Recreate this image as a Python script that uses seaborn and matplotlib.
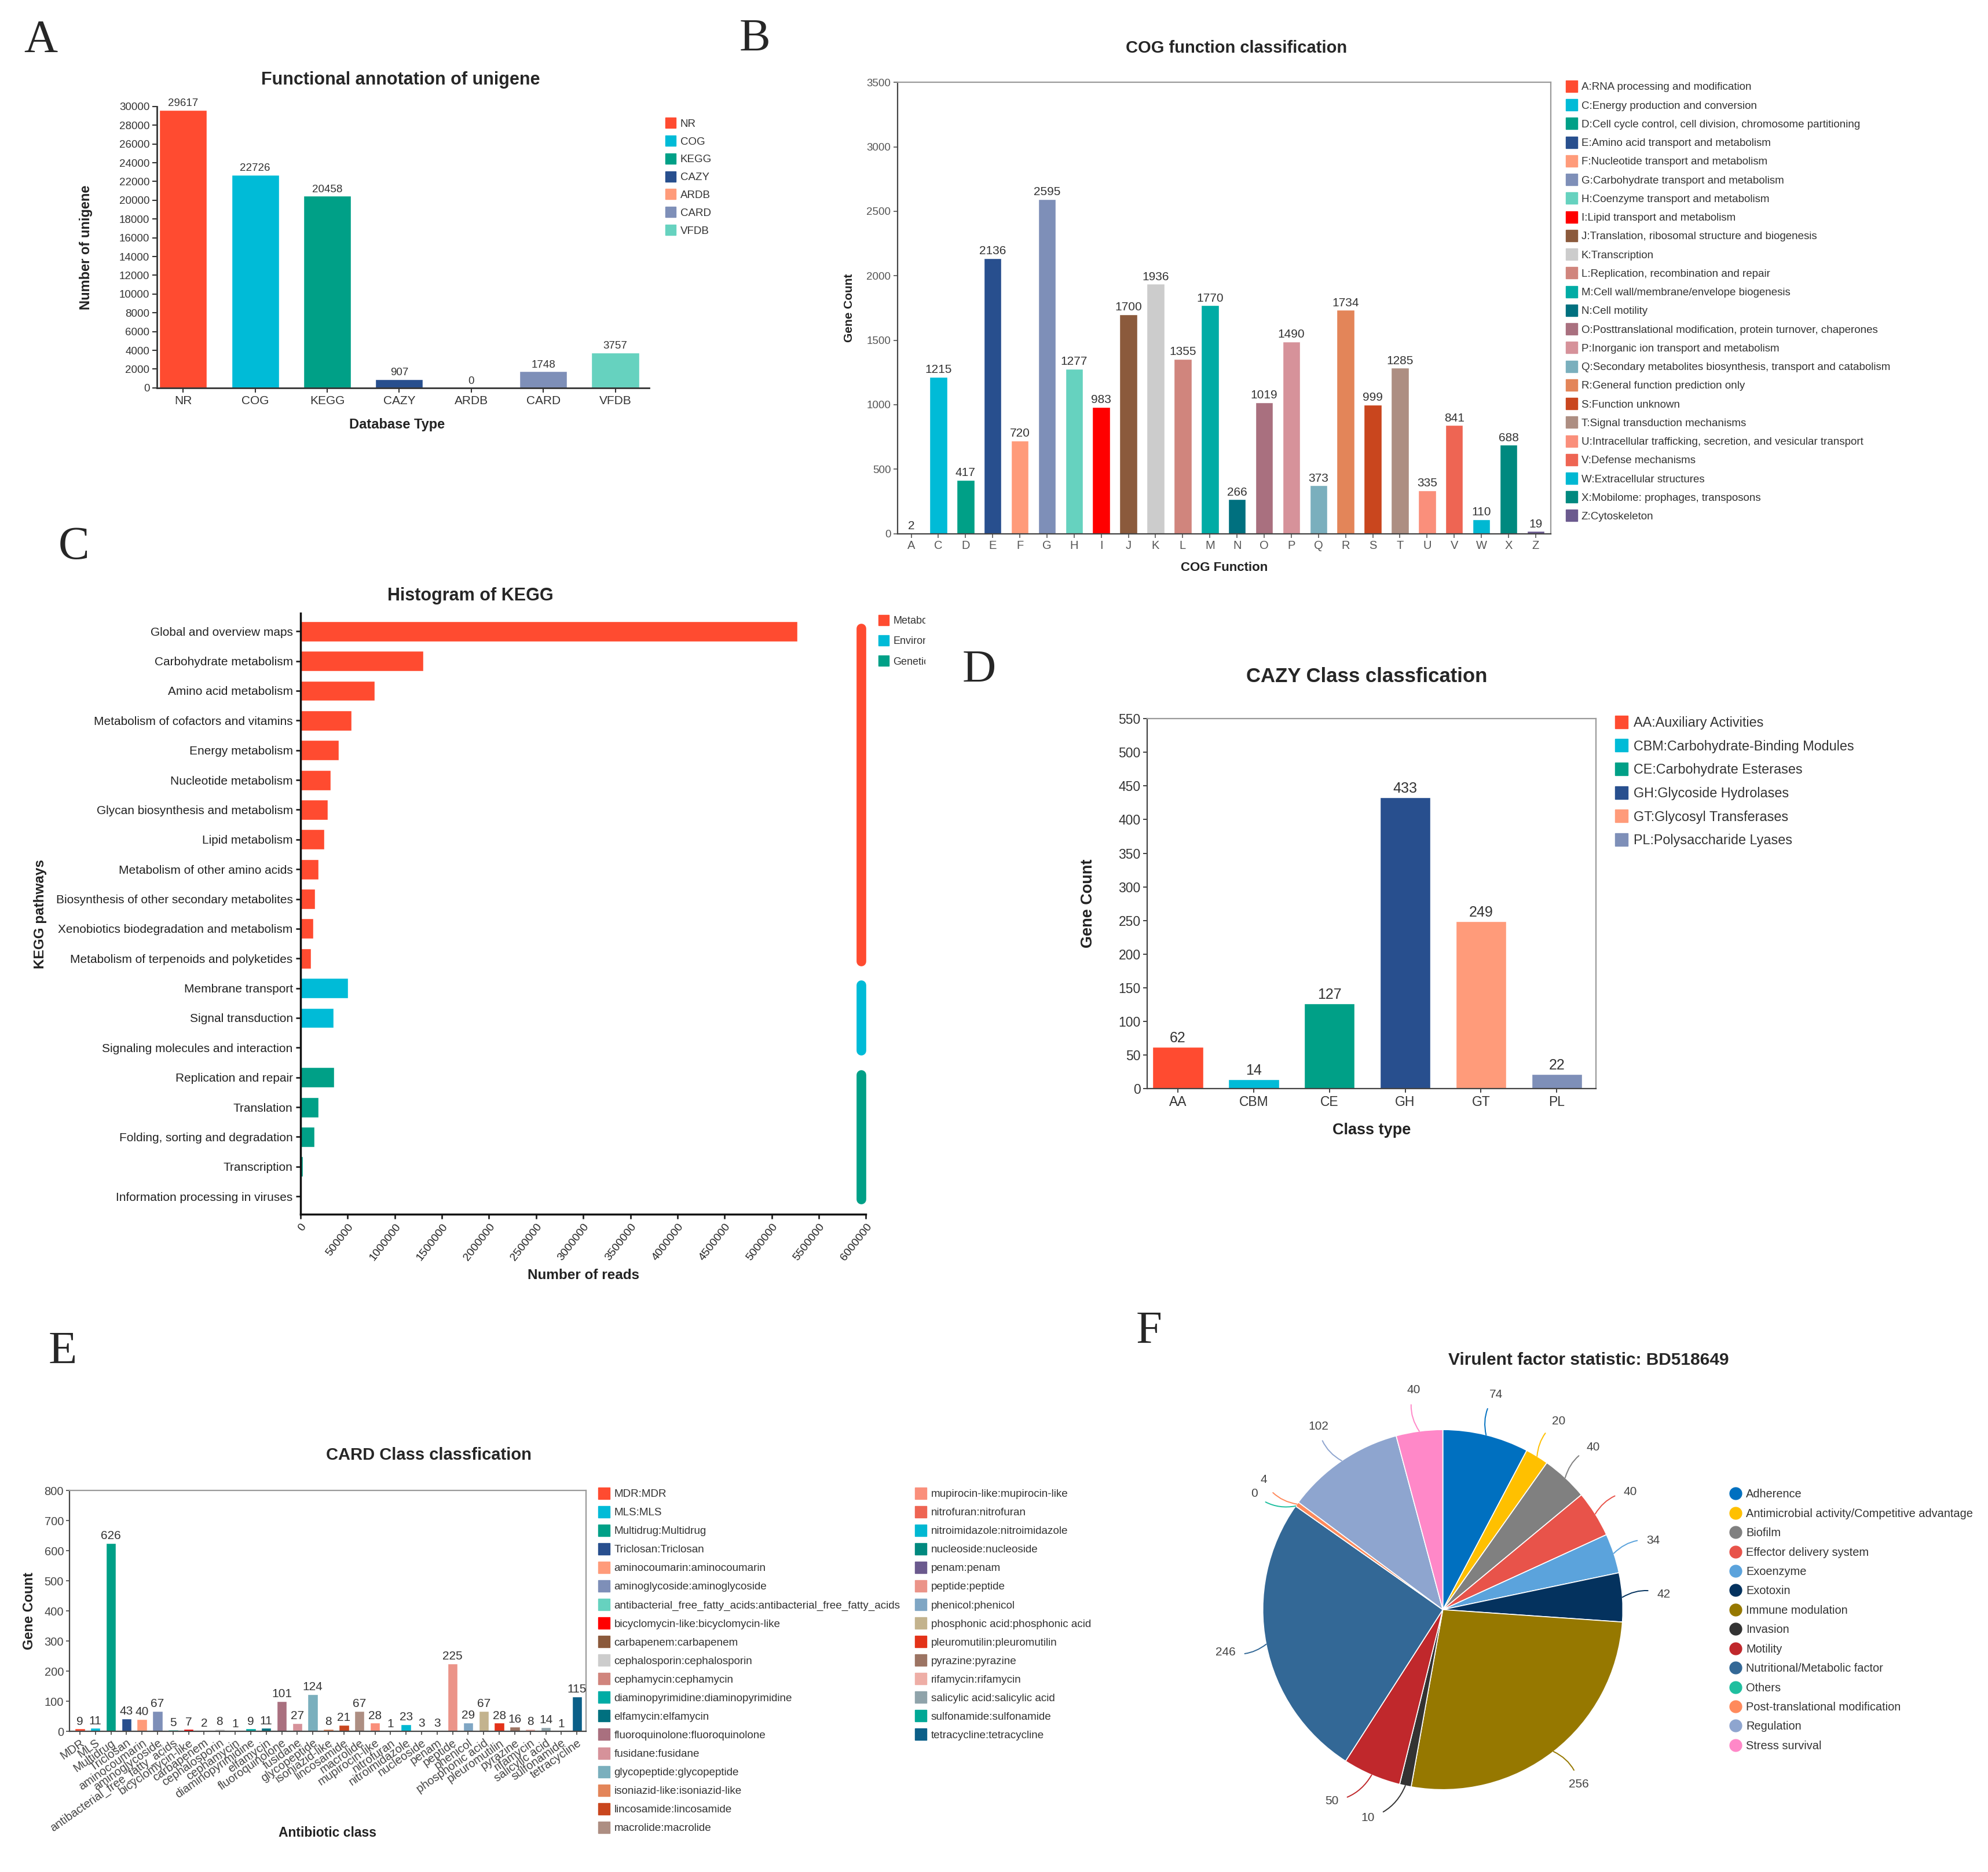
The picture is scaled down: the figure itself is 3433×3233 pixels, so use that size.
import numpy as np
import pandas as pd
import matplotlib
matplotlib.use('Agg')
import matplotlib.pyplot as plt
import seaborn as sns
from matplotlib.lines import Line2D
from matplotlib.transforms import Bbox, TransformedBbox

# ---------------- data ----------------
palette = ['#FF4B30', '#00BBD7', '#00A087', '#284F8E', '#FF9B7A', '#7E8FB8', '#66D2BF',
           '#FF0000', '#8B5A3C', '#CCCCCC', '#D0857D', '#00ACA5', '#00707F', '#A9707F',
           '#D6929A', '#7AAFBD', '#E38559', '#C9461E', '#AD8E82', '#FA8F7B', '#EE6553',
           '#00B8D2', '#00897F', '#6B5A8E', '#EB9489', '#7FA6C4', '#C3B38E', '#E33219',
           '#9C7463', '#EEAEA6', '#8FA3AA', '#00A896', '#0B5F88']

# A
db_types = ['NR', 'COG', 'KEGG', 'CAZY', 'ARDB', 'CARD', 'VFDB']
db_counts = [29617, 22726, 20458, 907, 0, 1748, 3757]

# B
cog_letters = ['A', 'C', 'D', 'E', 'F', 'G', 'H', 'I', 'J', 'K', 'L', 'M', 'N', 'O',
               'P', 'Q', 'R', 'S', 'T', 'U', 'V', 'W', 'X', 'Z']
cog_counts = [2, 1215, 417, 2136, 720, 2595, 1277, 983, 1700, 1936, 1355, 1770, 266,
              1019, 1490, 373, 1734, 999, 1285, 335, 841, 110, 688, 19]
cog_names = ['A:RNA processing and modification',
             'C:Energy production and conversion',
             'D:Cell cycle control, cell division, chromosome partitioning',
             'E:Amino acid transport and metabolism',
             'F:Nucleotide transport and metabolism',
             'G:Carbohydrate transport and metabolism',
             'H:Coenzyme transport and metabolism',
             'I:Lipid transport and metabolism',
             'J:Translation, ribosomal structure and biogenesis',
             'K:Transcription',
             'L:Replication, recombination and repair',
             'M:Cell wall/membrane/envelope biogenesis',
             'N:Cell motility',
             'O:Posttranslational modification, protein turnover, chaperones',
             'P:Inorganic ion transport and metabolism',
             'Q:Secondary metabolites biosynthesis, transport and catabolism',
             'R:General function prediction only',
             'S:Function unknown',
             'T:Signal transduction mechanisms',
             'U:Intracellular trafficking, secretion, and vesicular transport',
             'V:Defense mechanisms',
             'W:Extracellular structures',
             'X:Mobilome: prophages, transposons',
             'Z:Cytoskeleton']

# C
kegg_pathways = ['Global and overview maps', 'Carbohydrate metabolism', 'Amino acid metabolism',
                 'Metabolism of cofactors and vitamins', 'Energy metabolism', 'Nucleotide metabolism',
                 'Glycan biosynthesis and metabolism', 'Lipid metabolism',
                 'Metabolism of other amino acids', 'Biosynthesis of other secondary metabolites',
                 'Xenobiotics biodegradation and metabolism', 'Metabolism of terpenoids and polyketides',
                 'Membrane transport', 'Signal transduction', 'Signaling molecules and interaction',
                 'Replication and repair', 'Translation', 'Folding, sorting and degradation',
                 'Transcription', 'Information processing in viruses']
kegg_reads = [5270000, 1306000, 789000, 542000, 407000, 320000, 290000, 253000, 191000,
              154000, 136000, 111000, 505000, 351000, 3000, 357000, 191000, 148000, 25000, 1500]
kegg_group_names = ['Metabolism', 'Environmental', 'Genetic']
kegg_groups = [kegg_group_names[0]] * 12 + [kegg_group_names[1]] * 3 + [kegg_group_names[2]] * 5

# D
cazy_types = ['AA', 'CBM', 'CE', 'GH', 'GT', 'PL']
cazy_counts = [62, 14, 127, 433, 249, 22]
cazy_names = ['AA:Auxiliary Activities', 'CBM:Carbohydrate-Binding Modules',
              'CE:Carbohydrate Esterases', 'GH:Glycoside Hydrolases',
              'GT:Glycosyl Transferases', 'PL:Polysaccharide Lyases']

# E
card_classes = ['MDR', 'MLS', 'Multidrug', 'Triclosan', 'aminocoumarin', 'aminoglycoside',
                'antibacterial_free_fatty_acids', 'bicyclomycin-like', 'carbapenem',
                'cephalosporin', 'cephamycin', 'diaminopyrimidine', 'elfamycin',
                'fluoroquinolone', 'fusidane', 'glycopeptide', 'isoniazid-like', 'lincosamide',
                'macrolide', 'mupirocin-like', 'nitrofuran', 'nitroimidazole', 'nucleoside',
                'penam', 'peptide', 'phenicol', 'phosphonic acid', 'pleuromutilin', 'pyrazine',
                'rifamycin', 'salicylic acid', 'sulfonamide', 'tetracycline']
card_counts = [9, 11, 626, 43, 40, 67, 5, 7, 2, 8, 1, 9, 11, 101, 27, 124, 8, 21, 67, 28,
               1, 23, 3, 3, 225, 29, 67, 28, 16, 8, 14, 1, 115]

# F
vf_names = ['Adherence', 'Antimicrobial activity/Competitive advantage', 'Biofilm',
            'Effector delivery system', 'Exoenzyme', 'Exotoxin', 'Immune modulation',
            'Invasion', 'Motility', 'Nutritional/Metabolic factor', 'Others',
            'Post-translational modification', 'Regulation', 'Stress survival']
vf_counts = [74, 20, 40, 40, 34, 42, 256, 10, 50, 246, 0, 4, 102, 40]
vf_colors = ['#0070C0', '#FFC000', '#808080', '#E8534A', '#5BA3DC', '#04325E', '#967800',
             '#333333', '#C0282C', '#336896', '#1FBF9F', '#FF8A5C', '#8EA5CF', '#FF88C8']

# ---------------- layout helpers (reference grid 1568 x 1477) ----------------
W, H = 1568, 1477
PT = 3433 / W * 0.72  # points per grid unit at dpi 100

sns.set_style('ticks')
plt.rcParams['font.family'] = ['Liberation Sans', 'DejaVu Sans']
plt.rcParams['axes.labelcolor'] = '#222222'

fig = plt.figure(figsize=(34.33, 32.33), dpi=100)


def pos(l, t, r, b):
    return [l / W, 1 - b / H, (r - l) / W, (b - t) / H]


def ftext(x, y, s, **kw):
    fig.text(x / W, 1 - y / H, s, **kw)


def add_legend(labels, colors, x, y, fs, row, ms, marker='s', clip_x=None):
    handles = [Line2D([], [], ls='', marker=marker, markersize=ms,
                      markerfacecolor=c, markeredgecolor=c) for c in colors]
    th = 0.93 * fs  # approx. row text height in points
    leg = fig.legend(handles, labels, loc='upper left',
                     bbox_to_anchor=(x / W, 1 - (y - th / 2 / PT) / H),
                     frameon=False, fontsize=fs, borderpad=0, borderaxespad=0,
                     handlelength=ms / fs, handletextpad=0.4,
                     labelspacing=(row * PT - th) / fs)
    for t in leg.get_texts():
        t.set_color('#333333')
    if clip_x is not None:
        cb = TransformedBbox(Bbox([[0, 0], [clip_x / W, 1]]), fig.transFigure)
        for t in leg.get_texts():
            t.set_clip_on(True)
            t.set_clip_box(cb)
    return leg


def style_box(ax, lw=1.6):
    for s in ['left', 'bottom']:
        ax.spines[s].set_color('#444444')
        ax.spines[s].set_linewidth(lw)
    for s in ['top', 'right']:
        ax.spines[s].set_color('#9a9a9a')
        ax.spines[s].set_linewidth(lw)


def letter(x, y, s):
    ftext(x, y, s, fontsize=58, family='Liberation Serif', va='baseline', ha='left')


# ---------------- A ----------------
axA = fig.add_axes(pos(124, 84, 512, 306))
sns.barplot(x=db_types, y=db_counts, hue=db_types, palette=palette[:7], saturation=1,
            width=0.66, legend=False, errorbar=None, ax=axA)
for c in axA.containers:
    axA.bar_label(c, padding=2, fontsize=13.5, color='#333333')
axA.set_xlim(-0.36, 6.47)
axA.set_ylim(0, 30000)
axA.set_yticks(np.arange(0, 30001, 2000))
sns.despine(ax=axA)
for s in ['left', 'bottom']:
    axA.spines[s].set_linewidth(2)
    axA.spines[s].set_color('#333333')
axA.tick_params(labelsize=13.5, length=6, width=1.5, colors='#333333')
axA.tick_params(axis='x', labelsize=15)
axA.set_xlabel('Database Type', fontsize=17, fontweight='bold')
axA.set_ylabel('Number of unigene', fontsize=17, fontweight='bold')
axA.xaxis.set_label_coords(0.487, -0.108)
axA.yaxis.set_label_coords(-0.131, 0.5)
ftext(316, 63, 'Functional annotation of unigene', fontsize=22, fontweight='bold',
      ha='center', va='center')
add_legend(db_types, palette[:7], 525, 98, 13.5, 14.2, 13)
letter(19, 41, 'A')

# ---------------- B ----------------
axB = fig.add_axes(pos(708, 65, 1223, 421))
sns.barplot(x=cog_letters, y=cog_counts, hue=cog_letters, palette=palette[:24], saturation=1,
            width=0.65, legend=False, errorbar=None, ax=axB)
for c in axB.containers:
    axB.bar_label(c, padding=2, fontsize=15, color='#333333')
axB.set_xlim(-0.5, 23.55)
axB.set_ylim(0, 3500)
axB.set_yticks(np.arange(0, 3501, 500))
style_box(axB)
axB.tick_params(labelsize=13.5, length=5, width=1.2, colors='#555555')
axB.tick_params(axis='x', labelsize=14.5)
axB.set_xlabel('COG Function', fontsize=16, fontweight='bold')
axB.set_ylabel('Gene Count', fontsize=15, fontweight='bold')
axB.xaxis.set_label_coords(0.5, -0.062)
axB.yaxis.set_label_coords(-0.066, 0.5)
ftext(975, 38, 'COG function classification', fontsize=21, fontweight='bold',
      ha='center', va='center')
add_legend(cog_names, palette[:24], 1235, 69, 13.5, 14.87, 14)
letter(583, 40, 'B')

# ---------------- C ----------------
axC = fig.add_axes(pos(237, 484, 683, 958))
sns.barplot(x=kegg_reads, y=kegg_pathways, hue=kegg_groups, palette=palette[:3], saturation=1,
            width=0.68, dodge=False, legend=False, errorbar=None, orient='h', ax=axC)
axC.set_xlim(0, 6000000)
axC.set_ylim(19.6, -0.6)
xt = np.arange(0, 6000001, 500000)
axC.set_xticks(xt)
axC.set_xticklabels([str(v) for v in xt], rotation=52, ha='right', rotation_mode='anchor')
sns.despine(ax=axC)
for s in ['left', 'bottom']:
    axC.spines[s].set_linewidth(2.5)
    axC.spines[s].set_color('#111111')
axC.tick_params(labelsize=15, length=6, width=2, colors='#222222')
axC.tick_params(axis='x', labelsize=14)
# group bars on the right
start = 0
for g, col in zip(kegg_group_names, palette[:3]):
    n = kegg_groups.count(g)
    axC.plot([5946000, 5946000], [start - 0.1, start + n - 0.9], color=col, lw=12,
             solid_capstyle='round', clip_on=False)
    start += n
axC.set_xlabel('Number of reads', fontsize=17.5, fontweight='bold')
axC.set_ylabel('KEGG pathways', fontsize=17.5, fontweight='bold')
axC.xaxis.set_label_coords(0.5, -0.091)
axC.yaxis.set_label_coords(-0.448, 0.5)
ftext(371, 470, 'Histogram of KEGG', fontsize=22, fontweight='bold', ha='center', va='center')
add_legend(kegg_group_names, palette[:3], 693, 490, 13, 16, 13, clip_x=730)
letter(46, 441, 'C')

# ---------------- D ----------------
axD = fig.add_axes(pos(905, 567, 1259, 859))
sns.barplot(x=cazy_types, y=cazy_counts, hue=cazy_types, palette=palette[:6], saturation=1,
            width=0.67, legend=False, errorbar=None, ax=axD)
for c in axD.containers:
    axD.bar_label(c, padding=2, fontsize=18, color='#333333')
axD.set_xlim(-0.4, 5.52)
axD.set_ylim(0, 550)
axD.set_yticks(np.arange(0, 551, 50))
style_box(axD)
axD.tick_params(labelsize=16.5, length=5, width=1.3, colors='#333333')
axD.set_xlabel('Class type', fontsize=19.5, fontweight='bold')
axD.set_ylabel('Gene Count', fontsize=19.5, fontweight='bold')
axD.xaxis.set_label_coords(0.5, -0.0925)
axD.yaxis.set_label_coords(-0.116, 0.5)
ftext(1078, 534, 'CAZY Class classfication', fontsize=25, fontweight='bold',
      ha='center', va='center')
add_legend(cazy_names, palette[:6], 1274, 570, 16.8, 18, 16)
letter(759, 538, 'D')

# ---------------- E ----------------
axE = fig.add_axes(pos(55, 1176, 462, 1366))
sns.barplot(x=card_classes, y=card_counts, hue=card_classes, palette=palette[:33],
            saturation=1, width=0.65, legend=False, errorbar=None, ax=axE)
for c in axE.containers:
    axE.bar_label(c, padding=2, fontsize=15, color='#333333')
axE.set_xlim(-0.65, 32.57)
axE.set_ylim(0, 800)
axE.set_yticks(np.arange(0, 801, 100))
axE.set_xticks(range(len(card_classes)))
axE.set_xticklabels(card_classes, rotation=35, ha='right', rotation_mode='anchor')
style_box(axE)
axE.tick_params(labelsize=14.5, length=4, width=1.2, colors='#444444')
axE.set_xlabel('Antibiotic class', fontsize=16.5, fontweight='bold')
axE.set_ylabel('Gene Count', fontsize=17, fontweight='bold')
axE.xaxis.set_label_coords(0.499, -0.395)
axE.yaxis.set_label_coords(-0.066, 0.5)
ftext(338, 1148, 'CARD Class classfication', fontsize=21, fontweight='bold',
      ha='center', va='center')
card_labels = [f'{c}:{c}' for c in card_classes]
add_legend(card_labels[:19], palette[:19], 472, 1179, 13.6, 14.8, 14)
add_legend(card_labels[19:], palette[19:33], 722, 1179, 13.6, 14.8, 14)
letter(38, 1076, 'E')

# ---------------- F ----------------
axF = fig.add_axes(pos(996, 1128, 1280, 1412))
wedges, _ = axF.pie(vf_counts, colors=vf_colors, startangle=90, counterclock=False, radius=1,
                    wedgeprops=dict(edgecolor='white', linewidth=1.2))
axF.set_xlim(-1, 1)
axF.set_ylim(-1, 1)
axF.set_aspect('equal')
nudge = {7: -7.7, 8: -6.8, 10: 3.6}
for i, (w, v) in enumerate(zip(wedges, vf_counts)):
    a = np.deg2rad((w.theta1 + w.theta2) / 2)
    b = np.deg2rad((w.theta1 + w.theta2) / 2 + nudge.get(i, 0))
    axF.annotate(str(v), xy=(np.cos(a), np.sin(a)), xytext=(1.23 * np.cos(b), 1.23 * np.sin(b)),
                 ha='center', va='center', fontsize=15, color='#444444', annotation_clip=False,
                 arrowprops=dict(arrowstyle='-', color=vf_colors[i], lw=1.4, shrinkA=9,
                                 shrinkB=0, connectionstyle='arc3,rad=0.25'))
ftext(1253, 1073, 'Virulent factor statistic: BD518649', fontsize=21.5, fontweight='bold',
      ha='center', va='center')
add_legend(vf_names, vf_colors, 1364, 1179, 14.4, 15.08, 15, marker='o')
letter(896, 1060, 'F')

fig.savefig('out.png', dpi=100, facecolor='white')
